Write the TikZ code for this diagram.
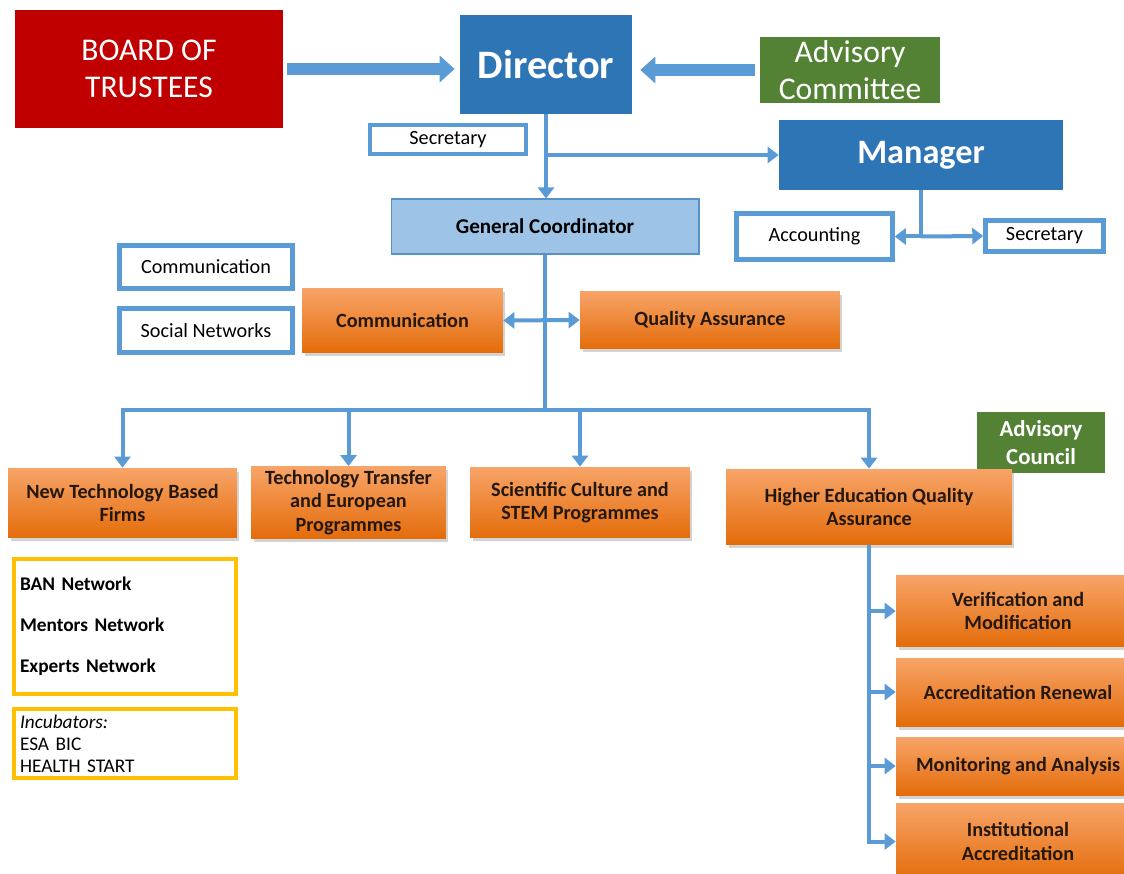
\documentclass[tikz,border=0pt]{standalone}
\usepackage{fontspec}
\setmainfont{Carlito}
\usetikzlibrary{arrows.meta,shadows,positioning,calc}
\definecolor{trustred}{HTML}{C00000}
\definecolor{dirblue}{HTML}{2E75B6}
\definecolor{linkblue}{HTML}{5B9BD5}
\definecolor{coordblue}{HTML}{9DC3E6}
\definecolor{advgreen}{HTML}{548235}
\definecolor{unitlight}{HTML}{F7A468}
\definecolor{unitdark}{HTML}{E46C0A}
\definecolor{netyellow}{HTML}{FFC000}
\definecolor{unittext}{HTML}{24180E}

\begin{document}
\begin{tikzpicture}[x=0.02cm,y=-0.02cm,
  headbox/.style={fill=#1,text=white,align=center,inner sep=0pt},
  bluebox/.style={draw=linkblue,line width=0.09cm,fill=white,inner sep=0pt,font=\fontsize{11.5}{13}\selectfont},
  unitbox/.style={top color=unitlight,bottom color=unitdark,text=unittext,align=center,inner sep=2pt,
    drop shadow={opacity=0.35,shadow xshift=0.05cm,shadow yshift=-0.07cm},
    font=\bfseries\fontsize{11.5}{13.5}\selectfont},
  netbox/.style={draw=netyellow,line width=0.09cm,fill=white,align=left,inner xsep=0.12cm,inner ysep=0pt,text width=4.2cm},
  link/.style={draw=linkblue,line width=0.08cm},
  linkarrow/.style={link,-{Triangle[length=0.22cm,width=0.32cm]}},
  bigarrow/.style={draw=linkblue,line width=0.24cm,-{Triangle[length=0.3cm,width=0.52cm]}}]
\useasboundingbox (0,0) rectangle (1124,874);
\clip (0,0) rectangle (1124,874);

% top level
\node[headbox=trustred,minimum width=5.36cm,minimum height=2.36cm,font=\fontsize{18}{21}\selectfont] (board) at (149,69) {BOARD OF\\TRUSTEES};
\node[headbox=dirblue,minimum width=3.44cm,minimum height=1.98cm,font=\bfseries\fontsize{23}{26}\selectfont] (director) at (546,64.5) {Director};
\node[headbox=advgreen,minimum width=3.6cm,minimum height=1.32cm,font=\fontsize{18}{21}\selectfont] (advcom) at (850,70) {Advisory\\Committee};
\node[bluebox,minimum width=3.12cm,minimum height=0.58cm] (secdir) at (448,139.5) {Secretary};
\node[headbox=dirblue,minimum width=5.68cm,minimum height=1.4cm,font=\bfseries\fontsize{19.5}{22}\selectfont] (manager) at (921,155) {Manager};
\node[fill=coordblue,draw=dirblue!80,line width=0.6pt,minimum width=6.16cm,minimum height=1.1cm,font=\bfseries\fontsize{12}{14}\selectfont] (gc) at (545,226.5) {General Coordinator};
\node[bluebox,minimum width=3.12cm,minimum height=0.92cm] (accounting) at (814.5,236.5) {Accounting};
\node[bluebox,minimum width=2.36cm,minimum height=0.62cm] (secman) at (1044.5,236) {Secretary};

% communication and quality
\node[bluebox,minimum width=3.46cm,minimum height=0.86cm] (commtask) at (206,267) {Communication};
\node[bluebox,minimum width=3.46cm,minimum height=0.88cm] (social) at (206,330.5) {Social Networks};
\node[unitbox,minimum width=4.02cm,minimum height=1.3cm] (comm) at (402.5,320.5) {Communication};
\node[unitbox,minimum width=5.2cm,minimum height=1.16cm] (qa) at (710,320) {Quality Assurance};

% units
\node[headbox=advgreen,minimum width=2.56cm,minimum height=1.22cm,font=\bfseries\fontsize{13}{16}\selectfont] (advcouncil) at (1041,442.5) {Advisory\\Council};
\node[unitbox,minimum width=4.58cm,minimum height=1.4cm] (ntbf) at (122.5,503) {New Technology Based\\Firms};
\node[unitbox,minimum width=3.9cm,minimum height=1.38cm] (ttep) at (348.5,502.5) {Technology Transfer\\and European\\Programmes};
\node[unitbox,minimum width=4.4cm,minimum height=1.42cm] (stem) at (580,502.5) {Scientific Culture and\\STEM Programmes};
\node[unitbox,minimum width=5.72cm,minimum height=1.52cm] (heqa) at (869,507) {Higher Education Quality\\Assurance};

\node[netbox,minimum height=2.7cm,font=\bfseries\fontsize{11}{13}\selectfont] (networks) at (125,626.5) {BAN Network\\[3.6mm]Mentors Network\\[3.6mm]Experts Network};
\node[netbox,minimum height=1.38cm,font=\fontsize{11}{12.5}\selectfont] (incub) at (125,743.5) {\textit{Incubators:}\\ESA BIC\\HEALTH START};

\node[unitbox,minimum width=4.88cm,minimum height=1.44cm] (verif) at (1018,611) {Verification and\\Modification};
\node[unitbox,minimum width=4.88cm,minimum height=1.36cm] (renew) at (1018,692) {Accreditation Renewal};
\node[unitbox,minimum width=4.88cm,minimum height=1.16cm] (monit) at (1018,766) {Monitoring and Analysis};
\node[unitbox,minimum width=4.88cm,minimum height=1.54cm] (inst) at (1018,841.5) {Institutional\\Accreditation};

% connectors
\draw[bigarrow] ([xshift=0.08cm]board.east) -- ([xshift=-0.1cm]board.east -| director.west);
\draw[bigarrow] ([xshift=-0.1cm]advcom.west) -- ([xshift=0.16cm]advcom.west -| director.east);
\draw[linkarrow] (director.south) -- (director.south |- gc.north);
\draw[linkarrow] (director.south |- manager.west) -- (manager.west);
\coordinate (mgrjoin) at (manager.south |- accounting.east);
\draw[link] (manager.south) -- (mgrjoin);
\draw[linkarrow] (mgrjoin) -- (accounting.east);
\draw[linkarrow] (mgrjoin) -- (secman.west);
\coordinate (bus) at (545,410);
\draw[link] (gc.south) -- (bus);
\draw[linkarrow,<->,>={Triangle[length=0.22cm,width=0.32cm]}] (comm.east) -- (qa.west);
\draw[linkarrow] (bus) -| (ntbf.north);
\draw[linkarrow] (bus) -| (ttep.north);
\draw[linkarrow] (bus) -| (stem.north);
\draw[linkarrow] (bus) -| (heqa.north);
\draw[linkarrow] (heqa.south) |- (verif.west);
\draw[linkarrow] (heqa.south) |- (renew.west);
\draw[linkarrow] (heqa.south) |- (monit.west);
\draw[linkarrow] (heqa.south) |- (inst.west);
\end{tikzpicture}
\end{document}
